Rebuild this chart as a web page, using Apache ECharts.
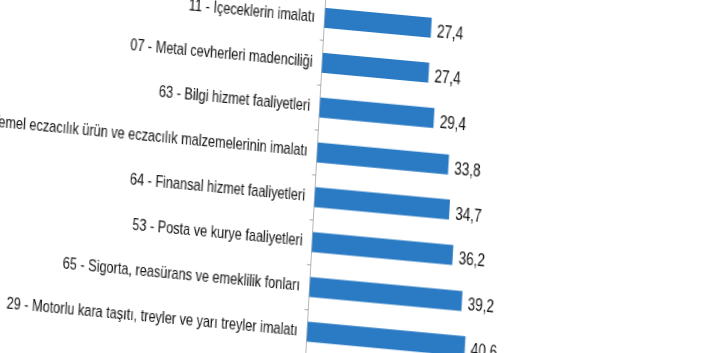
<!DOCTYPE html>
<html>
<head>
<meta charset="utf-8">
<script src="https://cdn.jsdelivr.net/npm/echarts@6/dist/echarts.min.js"></script>
<style>
  html,body{margin:0;padding:0;background:#fff;overflow:hidden;}
  #wrap{position:relative;width:705px;height:353px;overflow:hidden;}
  /* the source is a tilted, narrowed photo crop: squeeze, skew a bit and rotate the chart box */
  #chart{position:absolute;left:-150px;top:-40px;width:1100px;height:440px;
         transform-origin:470px 216px;
         transform:rotate(3.2deg) skewY(2.1deg) scaleX(0.75);}
</style>
</head>
<body>
<div id="wrap"><div id="chart"></div></div>
<script>
"use strict";

var categories=[
  "11 - İçeceklerin imalatı",
  "07 - Metal cevherleri madenciliği",
  "63 - Bilgi hizmet faaliyetleri",
  "21 - Temel eczacılık ürün ve eczacılık malzemelerinin imalatı",
  "64 - Finansal hizmet faaliyetleri",
  "53 - Posta ve kurye faaliyetleri",
  "65 - Sigorta, reasürans ve emeklilik fonları",
  "29 - Motorlu kara taşıtı, treyler ve yarı treyler imalatı"
];
var values=[27.4,27.4,29.4,33.8,34.7,36.2,39.2,40.6];

var font="'Liberation Sans',Arial,sans-serif";

var chart=echarts.init(document.getElementById("chart"),null,{renderer:"canvas"});
chart.setOption({
  animation:false,
  grid:{left:464.5,top:35.55,width:520,height:359.2,outerBoundsMode:"none",containLabel:false},
  xAxis:{
    type:"value",min:0,max:100,
    show:false,
    splitLine:{show:false}
  },
  yAxis:{
    type:"category",
    data:categories,
    inverse:true,
    axisLine:{lineStyle:{color:"#a6a6a6",width:1}},
    axisTick:{show:true,length:5,lineStyle:{color:"#a6a6a6"}},
    axisLabel:{color:"#111",fontSize:17,fontFamily:font,margin:13,padding:[0,0,8,0]}
  },
  series:[{
    type:"bar",
    data:values,
    barWidth:20,
    itemStyle:{color:"#2b7bc4"},
    label:{
      show:true,position:"right",distance:8,offset:[0,4],
      color:"#111",fontSize:18,fontFamily:font,
      formatter:function(p){return p.value.toFixed(1).replace(".",",");}
    }
  }]
});
</script>
</body>
</html>
